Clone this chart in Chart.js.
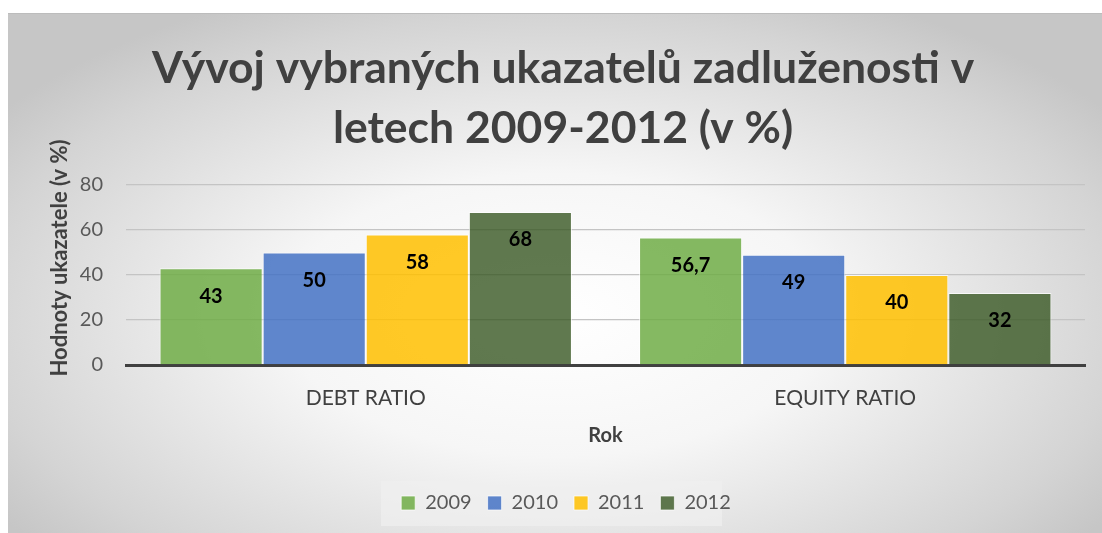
<!DOCTYPE html>
<html>
<head>
<meta charset="utf-8">
<script src="https://cdn.jsdelivr.net/npm/chart.js@4.4.1/dist/chart.umd.min.js"></script>
<style>
  body { margin: 0; background: #fff; }
  #wrap {
    position: absolute; left: 8px; top: 13px; width: 1094px; height: 520px;
    background: radial-gradient(ellipse 62% 68% at 50% 58%, #ffffff 0%, #f6f6f6 40%, #d4d4d4 85%, #c6c6c6 100%);
    border-top: 1px solid #bcbcbc;
    box-sizing: border-box;
  }
  canvas { display: block; }
</style>
</head>
<body>
<div id="wrap"><canvas id="myChart" width="1094" height="519"></canvas></div>
<script>
var categories = ["DEBT RATIO", "EQUITY RATIO"];
var years = ["2009", "2010", "2011", "2012"];
var values2009 = [43, 56.7];
var values2010 = [50, 49];
var values2011 = [58, 40];
var values2012 = [68, 32];
var yTicks = [0, 20, 40, 60, 80];

var colors = ['rgba(112,173,71,0.85)', 'rgba(68,114,196,0.85)', 'rgba(255,192,0,0.85)', 'rgba(56,87,35,0.8)'];
var seriesValues = [values2009, values2010, values2011, values2012];

var FONT = 'Lato, "Open Sans", sans-serif';

// labels inside the bars, a bit below the top
var barLabels = {
    id: 'barLabels',
    afterDatasetsDraw(chart) {
        var ctx = chart.ctx;
        ctx.save();
        ctx.font = 'bold 20px ' + FONT;
        ctx.fillStyle = '#000';
        ctx.textAlign = 'center';
        ctx.textBaseline = 'middle';
        chart.data.datasets.forEach((ds, i) => {
            chart.getDatasetMeta(i).data.forEach((bar, j) => {
                var v = ds.data[j];
                var txt = (v % 1) ? String(v).replace('.', ',') : String(v);
                ctx.fillText(txt, bar.x, bar.y + 28);
            });
        });
        ctx.restore();
    }
};

// nudge title/legend right, light box behind the legend, y axis title
var extras = {
    id: 'extras',
    afterLayout(chart) {
        chart.titleBlock.left += 8;
        chart.titleBlock.right += 8;
        chart.legend.left += 11;
        chart.legend.right += 11;
    },
    beforeDraw(chart) {
        var ctx = chart.ctx;
        ctx.save();
        ctx.fillStyle = 'rgba(240,240,240,0.7)';
        ctx.fillRect(373, 467, 341, 45);
        ctx.restore();
    },
    afterDraw(chart) {
        var ctx = chart.ctx;
        ctx.save();
        ctx.translate(52, 244);
        ctx.rotate(-Math.PI / 2);
        ctx.font = 'bold 22px ' + FONT;
        ctx.fillStyle = '#404040';
        ctx.textAlign = 'center';
        ctx.textBaseline = 'middle';
        ctx.fillText('Hodnoty ukazatele (v %)', 0, 0);
        ctx.restore();
    }
};

var ctx = document.getElementById('myChart').getContext('2d');
var chart = new Chart(ctx, {
    type: 'bar',
    data: {
        labels: categories,
        datasets: years.map((y, i) => ({
            label: y,
            data: seriesValues[i],
            backgroundColor: colors[i],
            borderColor: 'rgba(255,255,255,0.7)',
            borderWidth: 1,
            categoryPercentage: 0.86,
            barPercentage: 1
        }))
    },
    options: {
        responsive: false,
        animation: false,
        layout: { padding: { left: 17, right: 17, top: 0, bottom: 10 } },
        plugins: {
            title: {
                display: true,
                text: ['Vývoj vybraných ukazatelů zadluženosti v', 'letech 2009-2012 (v %)'],
                color: '#404040',
                font: { family: FONT, size: 44.5, weight: 'bold', lineHeight: 1.36 },
                padding: { top: 24, bottom: 26 }
            },
            legend: {
                position: 'bottom',
                labels: {
                    color: '#595959',
                    font: { family: FONT, size: 20 },
                    boxWidth: 14,
                    boxHeight: 14,
                    padding: 16
                }
            },
            tooltip: { enabled: false }
        },
        scales: {
            x: {
                grid: { display: false, drawTicks: false },
                border: { color: '#404040', width: 3 },
                ticks: { color: '#404040', font: { family: FONT, size: 21 }, padding: 21 },
                title: {
                    display: true, text: 'Rok', color: '#404040',
                    font: { family: FONT, size: 20, weight: 'bold' },
                    padding: { top: 0, bottom: 29 }
                },
                afterFit(scale) { scale.height = 112; }
            },
            y: {
                min: 0, max: 80,
                afterBuildTicks(scale) { scale.ticks = yTicks.map(v => ({ value: v })); },
                grid: {
                    color: c => c.tick && c.tick.value === 0 ? 'rgba(0,0,0,0)' : '#c4c4c4',
                    lineWidth: 1.3,
                    drawTicks: false
                },
                border: { display: false },
                ticks: { color: '#595959', font: { family: FONT, size: 20 }, padding: 23 },
                afterFit(scale) { scale.width = 101; }
            }
        }
    },
    plugins: [barLabels, extras]
});
</script>
</body>
</html>
